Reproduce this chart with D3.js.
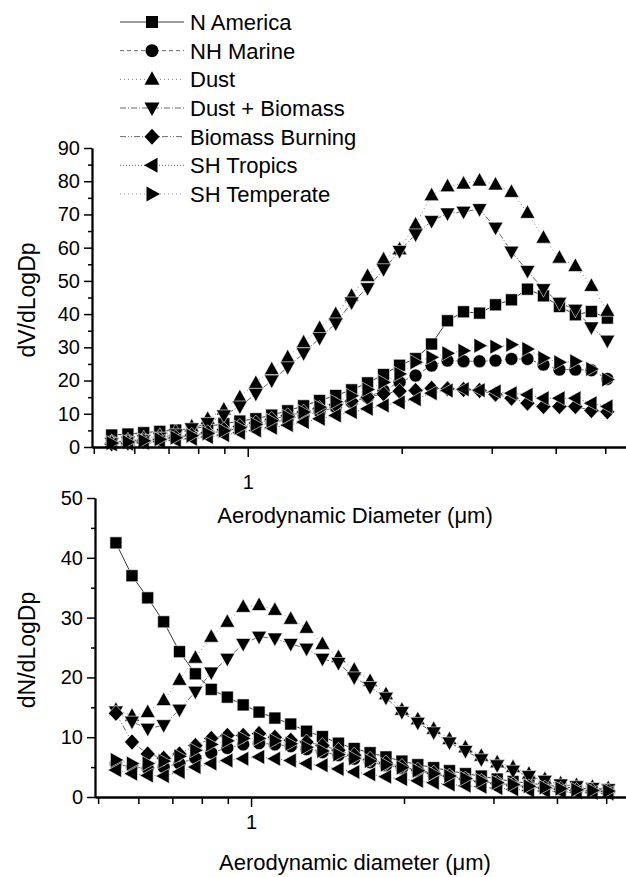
<!DOCTYPE html>
<html>
<head>
<meta charset="utf-8">
<script src="https://cdn.jsdelivr.net/npm/d3@7"></script>
<style>
  body { margin: 0; background: #fff; }
  svg { display: block; font-family: "Liberation Sans", Arial, sans-serif; }
  .axis path, .axis line { stroke: #000; }
  .axis path { stroke-width: 1.8; }
  .axis line { stroke-width: 1.5; }
  .axis text { font-size: 20px; fill: #000; }
</style>
</head>
<body>
<div id="chart"></div>
<script>
// aerodynamic diameters (um), APS channel midpoints
const diameters = [0.542, 0.583, 0.626, 0.673, 0.723, 0.777, 0.835, 0.898, 0.965, 1.037, 1.114, 1.197, 1.286, 1.382, 1.486, 1.596,
                   1.715, 1.843, 1.981, 2.129, 2.288, 2.458, 2.642, 2.839, 3.051, 3.278, 3.523, 3.786, 4.068, 4.371, 4.698, 5.048];

const seriesNames = ["N America", "NH Marine", "Dust", "Dust + Biomass", "Biomass Burning", "SH Tropics", "SH Temperate"];

// volume distributions, dV/dLogDp
const dvNAmerica     = [3.6, 3.9, 4.3, 4.7, 5.1, 5.5, 6.2, 7.0, 7.8, 8.5, 9.6, 10.9, 12.4, 14.0, 15.5, 17.2, 19.3, 21.8, 24.6, 26.6, 31.0, 38.0, 40.7, 40.3, 42.8, 44.3, 47.5, 45.5, 42.3, 39.8, 40.8, 38.8];
const dvNHMarine     = [1.5, 1.8, 2.2, 2.6, 3.0, 3.5, 4.1, 4.8, 5.6, 6.4, 7.3, 8.3, 9.4, 10.6, 12.0, 13.5, 15.0, 17.0, 19.5, 21.5, 24.5, 26.0, 25.8, 25.8, 26.0, 26.5, 26.5, 24.8, 23.3, 23.3, 23.1, 20.5];
const dvDust         = [1.5, 2.0, 2.6, 3.4, 4.6, 6.2, 8.5, 11.3, 15.0, 19.3, 23.4, 27.0, 31.5, 35.8, 40.0, 45.5, 51.5, 56.5, 59.5, 67.0, 75.8, 78.5, 79.3, 80.2, 79.0, 76.8, 70.5, 63.0, 57.0, 54.5, 48.5, 41.0];
const dvDustBiomass  = [1.2, 1.6, 2.1, 2.8, 3.8, 5.6, 7.2, 9.5, 12.2, 16.0, 20.0, 24.0, 28.2, 32.8, 37.2, 43.5, 47.8, 53.5, 59.0, 64.0, 68.0, 70.3, 70.8, 71.6, 66.0, 58.8, 53.0, 47.5, 43.4, 41.3, 36.0, 32.0];
const dvBiomass      = [1.0, 1.3, 1.7, 2.2, 2.8, 3.5, 4.3, 5.2, 6.2, 7.2, 8.3, 9.4, 10.5, 11.6, 12.7, 13.8, 15.0, 16.0, 16.8, 17.0, 17.7, 17.5, 17.3, 17.0, 15.9, 14.7, 13.2, 12.2, 12.2, 12.2, 11.0, 10.6];
const dvSHTropics    = [0.8, 1.0, 1.3, 1.6, 2.0, 2.5, 3.0, 3.6, 4.3, 5.0, 5.8, 6.6, 7.5, 8.5, 9.5, 10.5, 11.5, 12.5, 13.4, 14.4, 16.2, 17.0, 17.4, 17.1, 16.7, 16.2, 15.7, 14.7, 14.7, 14.7, 13.2, 12.2];
const dvSHTemperate  = [1.2, 1.5, 1.9, 2.3, 2.8, 3.4, 4.1, 4.9, 5.8, 6.8, 7.9, 9.1, 10.5, 12.0, 13.6, 15.4, 17.3, 19.5, 22.0, 25.5, 27.0, 28.2, 29.0, 30.5, 30.2, 30.8, 29.5, 26.8, 25.5, 25.8, 23.5, 20.3];

// number distributions, dN/dLogDp
const dnNAmerica     = [42.5, 37.0, 33.3, 29.3, 24.3, 20.6, 18.0, 16.7, 15.4, 14.2, 13.2, 12.2, 11.0, 10.1, 9.0, 8.1, 7.4, 6.7, 6.0, 5.4, 4.9, 4.4, 3.9, 3.5, 3.0, 2.6, 2.3, 2.0, 1.7, 1.5, 1.3, 1.1];
const dnNHMarine     = [5.5, 5.0, 4.8, 5.0, 5.6, 6.5, 7.4, 8.2, 8.8, 9.0, 8.8, 8.5, 8.0, 7.5, 7.0, 6.4, 5.8, 5.3, 4.8, 4.3, 3.8, 3.4, 3.0, 2.6, 2.3, 2.0, 1.8, 1.5, 1.3, 1.1, 1.0, 0.9];
const dnDust         = [14.6, 13.6, 14.2, 16.2, 19.6, 23.3, 26.8, 29.3, 31.8, 32.1, 31.3, 29.8, 28.3, 25.6, 23.4, 21.3, 19.4, 17.2, 14.6, 13.0, 11.4, 9.7, 8.3, 6.9, 5.8, 5.0, 3.9, 3.0, 2.3, 2.0, 1.7, 1.5];
const dnDustBiomass  = [14.3, 12.6, 11.4, 12.0, 14.6, 17.6, 20.8, 23.1, 25.6, 26.8, 26.5, 25.6, 24.8, 23.1, 22.4, 20.0, 18.4, 16.6, 14.2, 12.4, 10.8, 9.1, 7.7, 6.3, 5.3, 4.4, 3.5, 2.7, 2.1, 1.8, 1.5, 1.3];
const dnBiomass      = [14.0, 9.2, 7.2, 6.5, 7.2, 8.6, 9.8, 10.3, 10.3, 10.6, 10.0, 9.5, 9.2, 8.6, 7.8, 7.0, 6.3, 5.7, 5.1, 4.5, 4.0, 3.5, 3.0, 2.6, 2.3, 2.0, 1.7, 1.5, 1.3, 1.1, 1.0, 0.9];
const dnSHTropics    = [4.5, 3.9, 3.6, 3.5, 4.2, 5.0, 5.6, 6.1, 6.4, 6.7, 6.4, 6.1, 5.6, 5.3, 4.7, 4.2, 3.8, 3.4, 3.0, 2.7, 2.4, 2.1, 1.9, 1.7, 1.5, 1.3, 1.1, 1.0, 0.9, 0.8, 0.7, 0.6];
const dnSHTemperate  = [6.2, 5.6, 5.6, 6.0, 6.8, 7.8, 8.8, 9.4, 9.8, 9.8, 9.4, 8.9, 8.3, 7.7, 7.1, 6.5, 6.0, 5.4, 4.9, 4.4, 3.9, 3.5, 3.1, 2.7, 2.4, 2.1, 1.8, 1.6, 1.4, 1.2, 1.1, 1.0];

const dvTicks = [0, 10, 20, 30, 40, 50, 60, 70, 80, 90];
const dnTicks = [0, 10, 20, 30, 40, 50];
const xMinorTicks = [0.5, 0.6, 0.7, 0.8, 0.9, 2, 3, 4, 5];

// marker shape and line style per series (legend order)
const shapes = ["square", "circle", "up", "down", "diamond", "left", "right"];
const dashes = [null, "4,3", "1,3", "6,2,1,2", "6,2,1,2,1,2", "1,2", "1,3"];
const lineColors = ["#222", "#555", "#777", "#555", "#555", "#555", "#888"];

function marker(shape) {
  switch (shape) {
    case "square": return "M-6,-6H6V6H-6Z";
    case "circle": return "M6.5,0A6.5,6.5 0 1,1 -6.5,0A6.5,6.5 0 1,1 6.5,0Z";
    case "up": return "M0,-8L7.5,5.5L-7.5,5.5Z";
    case "down": return "M0,8L7.5,-5.5L-7.5,-5.5Z";
    case "left": return "M-8,0L5.5,-7.5L5.5,7.5Z";
    case "right": return "M8,0L-5.5,-7.5L-5.5,7.5Z";
    case "diamond": return "M0,-8L7.5,0L0,8L-7.5,0Z";
  }
}

const svg = d3.select("#chart").append("svg")
  .attr("width", 626).attr("height", 877);

function panel(cfg) {
  const x = d3.scaleLog().domain(cfg.xDomain).range(cfg.xRange);
  const y = d3.scaleLinear().domain([0, d3.max(cfg.yTicks)]).range(cfg.yRange);

  const g = svg.append("g");

  // data lines then markers
  const line = d3.line().x(d => x(d[0])).y(d => y(d[1]));
  cfg.series.forEach((vals, i) => {
    const pts = diameters.map((d, k) => [d, vals[k]]);
    g.append("path")
      .attr("d", line(pts))
      .attr("fill", "none")
      .attr("stroke", lineColors[i])
      .attr("stroke-width", 0.9)
      .attr("stroke-dasharray", dashes[i]);
  });
  cfg.series.forEach((vals, i) => {
    g.selectAll(null)
      .data(diameters.map((d, k) => [d, vals[k]]))
      .enter().append("path")
      .attr("transform", d => `translate(${x(d[0])},${y(d[1])})`)
      .attr("d", marker(shapes[i]))
      .attr("fill", "#000")
      .attr("stroke", "#fff")
      .attr("stroke-width", 0.6);
  });

  // y axis: labelled major ticks, minor ticks halfway
  g.append("g").attr("class", "axis")
    .attr("transform", `translate(${cfg.xRange[0]},0)`)
    .call(d3.axisLeft(y).tickValues(cfg.yTicks).tickSize(8).tickSizeOuter(0).tickPadding(4).tickFormat(d3.format("d")));
  g.append("g").attr("class", "axis")
    .attr("transform", `translate(${cfg.xRange[0]},0)`)
    .call(d3.axisLeft(y).tickValues(cfg.yTicks.slice(1).map(t => t - 5)).tickSize(4).tickSizeOuter(0).tickFormat(""));

  // x axis: only "1" labelled
  g.append("g").attr("class", "axis")
    .attr("transform", `translate(0,${cfg.yRange[0]})`)
    .call(d3.axisBottom(x).tickValues([1]).tickSize(10).tickSizeOuter(0).tickPadding(cfg.xPad).tickFormat(d3.format("d")));
  g.append("g").attr("class", "axis")
    .attr("transform", `translate(0,${cfg.yRange[0]})`)
    .call(d3.axisBottom(x).tickValues(xMinorTicks).tickSize(7).tickSizeOuter(0).tickFormat(""));

  g.append("text")
    .attr("x", 355).attr("y", cfg.titleY)
    .attr("text-anchor", "middle")
    .style("font-size", "22px")
    .text(cfg.xTitle);

  g.append("text")
    .attr("transform", `translate(35,${cfg.yLabelY}) rotate(-90)`)
    .attr("text-anchor", "middle")
    .style("font-size", "23px")
    .text(cfg.yTitle);
}

panel({
  series: [dvNAmerica, dvNHMarine, dvDust, dvDustBiomass, dvBiomass, dvSHTropics, dvSHTemperate],
  xDomain: [0.496, 5.49], xRange: [92, 626],
  yTicks: dvTicks, yRange: [447, 148], xPad: 18,
  xTitle: "Aerodynamic Diameter (\u03bcm)", titleY: 523,
  yTitle: "dV/dLogDp", yLabelY: 300
});

panel({
  series: [dnNAmerica, dnNHMarine, dnDust, dnDustBiomass, dnBiomass, dnSHTropics, dnSHTemperate],
  xDomain: [0.493, 5.47], xRange: [95, 626],
  yTicks: dnTicks, yRange: [797, 498], xPad: 8,
  xTitle: "Aerodynamic diameter (\u03bcm)", titleY: 870,
  yTitle: "dN/dLogDp", yLabelY: 650
});

// legend
const legend = svg.append("g");
const rowY = d3.scalePoint().domain(seriesNames).range([22, 194]);
seriesNames.forEach((name, i) => {
  const yy = rowY(name);
  legend.append("line")
    .attr("x1", 120).attr("x2", 184).attr("y1", yy).attr("y2", yy)
    .attr("stroke", lineColors[i]).attr("stroke-width", 0.9)
    .attr("stroke-dasharray", dashes[i]);
  legend.append("path")
    .attr("transform", `translate(152,${yy})`)
    .attr("d", marker(shapes[i]))
    .attr("fill", "#000");
  legend.append("text")
    .attr("x", 190).attr("y", yy).attr("dy", "0.36em")
    .style("font-size", "22px")
    .text(name);
});
</script>
</body>
</html>
